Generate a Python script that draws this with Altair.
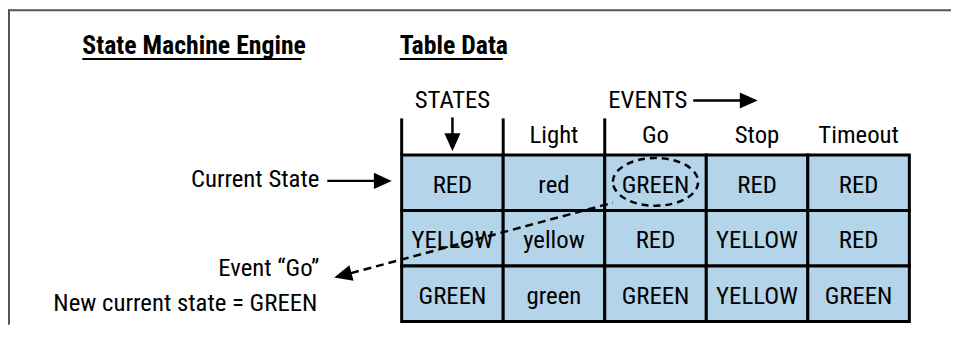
import altair as alt
import pandas as pd

# ---------------- data ----------------
headers = ["", "Light", "Go", "Stop", "Timeout"]
state_col = ["RED", "YELLOW", "GREEN"]
light_col = ["red", "yellow", "green"]
go_col = ["GREEN", "RED", "GREEN"]
stop_col = ["RED", "YELLOW", "YELLOW"]
timeout_col = ["RED", "RED", "GREEN"]
titles = ["State Machine Engine", "Table Data"]
axis_labels = ["STATES", "EVENTS"]
left_labels = ["Current State", "Event \u201cGo\u201d", "New current state = GREEN"]

# ---------------- layout (page pixels) ----------------
W, H = 951, 318
X0, CW = 405, 102.4
Y0, RH = 155, 55.9
FONT = "Roboto Condensed, DejaVu Sans Condensed, sans-serif"
FS = 25
BLUE = "#b4d4ea"

xs = alt.Scale(domain=[8, 8 + W], nice=False, zero=False)
ys = alt.Scale(domain=[8, 8 + H], nice=False, zero=False, reverse=True)


def X(f):
    return alt.X(f, type="quantitative", scale=xs, axis=None)


def Y(f):
    return alt.Y(f, type="quantitative", scale=ys, axis=None)


# table cells
columns = [state_col, light_col, go_col, stop_col, timeout_col]
cells = []
for c, col in enumerate(columns):
    for r, v in enumerate(col):
        cells.append(dict(x=X0 + c * CW, x2=X0 + (c + 1) * CW,
                          y=Y0 + r * RH, y2=Y0 + (r + 1) * RH,
                          xc=X0 + (c + 0.5) * CW, yb=Y0 + (r + 0.5) * RH + 10,
                          label=v))
cells = pd.DataFrame(cells)

head = pd.DataFrame([dict(xc=X0 + (c + 0.5) * CW, yb=143, label=h)
                     for c, h in enumerate(headers) if h])
head_lines = pd.DataFrame([dict(x=X0 + c * CW, x2=X0 + c * CW, y=118, y2=Y0)
                           for c in range(3)])

states_txt = pd.DataFrame(dict(xc=[X0 + 0.5 * CW], yb=[108], label=axis_labels[:1]))
events_txt = pd.DataFrame(dict(xc=[693], yb=[108], label=axis_labels[1:]))
title_txt = pd.DataFrame(dict(xc=[83, 403], yb=[53, 53], label=titles))
underline = pd.DataFrame(dict(x=[83, 403], x2=[304, 507], y=[58, 58], y2=[58, 58]))
left_txt = pd.DataFrame(dict(xc=[322, 322, 320], yb=[187, 277, 312], label=left_labels))

solid = pd.DataFrame(dict(x=[X0 + 0.5 * CW, 699, 330], x2=[X0 + 0.5 * CW, 750, 380],
                          y=[117, 100, 181], y2=[136, 100, 181]))
heads = pd.DataFrame(dict(x=[X0 + 0.5 * CW, 755, 386, 345.7],
                          y=[142, 100, 181, 276.2],
                          ang=[90, 0, 0, 165]))
dashed = pd.DataFrame(dict(x=[354], x2=[618], y=[274], y2=[203]))
ellipse = pd.DataFrame(dict(x=[X0 + 2.5 * CW], y=[182]))
frame = pd.DataFrame(dict(x=[5, 9], x2=[959, 9], y=[9, 8], y2=[9, 326]))

ARROW = "M -1 -0.9 L 1 0 L -1 0.9 Z"
ELLIPSE = ("M -1 0 C -1 -0.309 -0.552 -0.56 0 -0.56 C 0.552 -0.56 1 -0.309 1 0 "
           "C 1 0.309 0.552 0.56 0 0.56 C -0.552 0.56 -1 0.309 -1 0 Z")


def txt(df, align, size=FS, weight="normal"):
    return alt.Chart(df).mark_text(font=FONT, fontSize=size, fontWeight=weight,
                                   baseline="alphabetic", align=align,
                                   color="black").encode(
        x=X("xc"), y=Y("yb"), text="label")


def seg(df, **kw):
    return alt.Chart(df).mark_rule(**kw).encode(
        x=X("x"), x2="x2", y=Y("y"), y2="y2")


layers = [
    seg(frame, color="#555555", strokeWidth=2),
    alt.Chart(cells).mark_rect(fill=BLUE, stroke="black", strokeWidth=3).encode(
        x=X("x"), x2="x2", y=Y("y"), y2="y2"),
    seg(head_lines, color="black", strokeWidth=3),
    txt(cells, "center"),
    txt(head, "center"),
    txt(states_txt, "center"),
    txt(events_txt, "right"),
    txt(title_txt, "left", 26, "bold"),
    seg(underline, color="black", strokeWidth=2),
    txt(left_txt, "right"),
    seg(solid, color="black", strokeWidth=2.5),
    seg(dashed, color="black", strokeWidth=2.5, strokeDash=[8, 5]),
    alt.Chart(heads).mark_point(shape=ARROW, size=324, filled=True, color="black",
                                opacity=1, strokeWidth=0).encode(
        x=X("x"), y=Y("y"), angle=alt.Angle("ang:Q", scale=None)),
    alt.Chart(ellipse).mark_point(shape=ELLIPSE, size=86 * 86, filled=False,
                                  color="black", opacity=1, strokeWidth=2.5,
                                  strokeDash=[7, 5]).encode(
        x=X("x"), y=Y("y")),
]

chart = alt.layer(*layers).properties(
    width=W, height=H, padding=0, autosize="none", background="white"
).configure_view(stroke=None)

chart.save("out.html", embed_options={"renderer": "svg", "actions": False})
